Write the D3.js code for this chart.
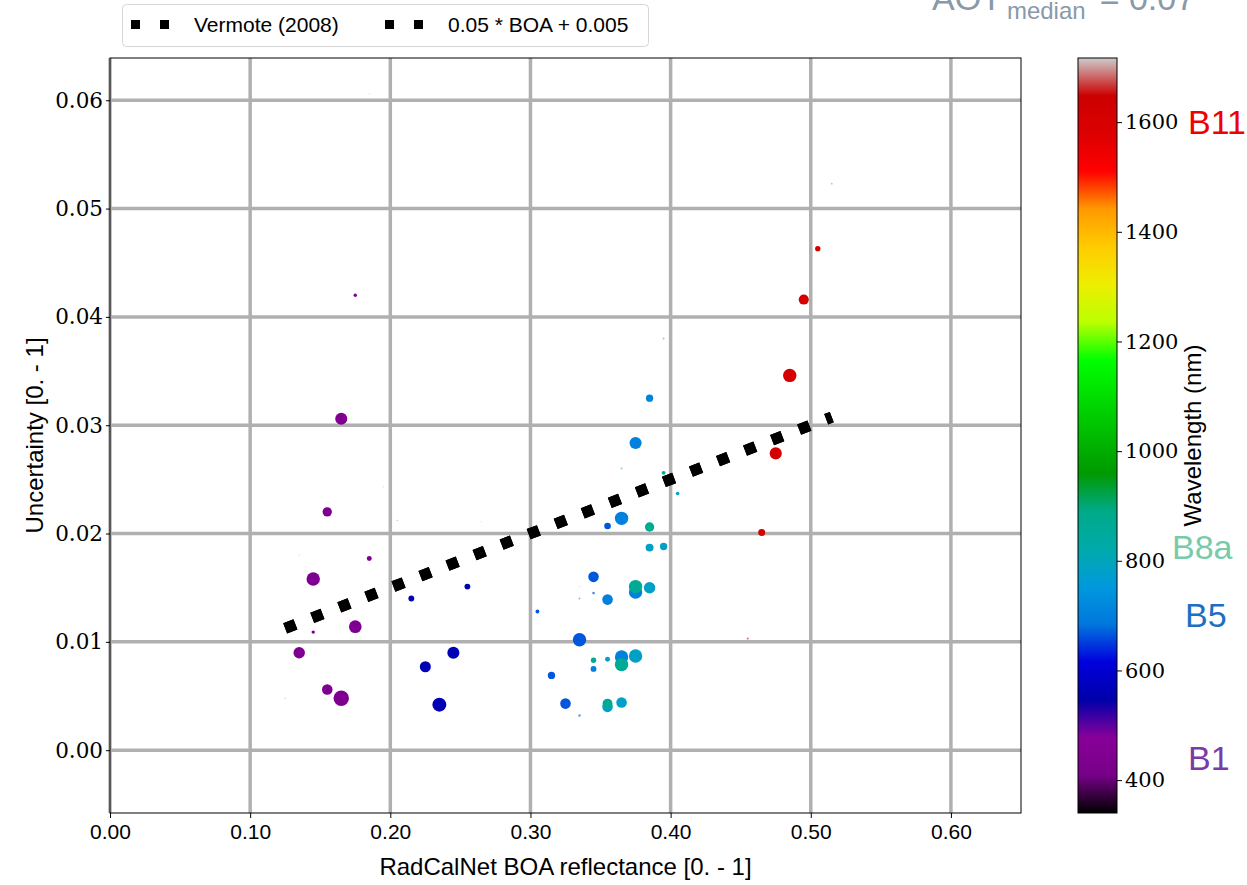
<!DOCTYPE html>
<html><head><meta charset="utf-8">
<script src="https://cdn.jsdelivr.net/npm/d3@7"></script>
<style>body{margin:0;background:#fff}svg{display:block}</style>
</head><body>
<svg id="chart" width="1247" height="885"></svg>
<script>
// Matchups: RadCalNet BOA reflectance, uncertainty, band wavelength (nm) and matchup weight
const boa = [
  0.175,0.165,0.155,0.185,0.145,0.145,0.175,0.135,0.155,0.165,0.125,0.185,0.195,0.135,
  0.215,0.255,0.225,0.245,0.235,0.205,
  0.305,0.315,0.325,0.335,0.345,0.355,0.335,0.345,0.265,0.335,
  0.375,0.365,0.385,0.355,0.365,0.345,0.375,0.365,0.395,0.335,
  0.385,0.395,0.385,0.375,0.365,0.355,0.405,0.355,0.405,
  0.385,0.375,0.365,0.345,0.355,0.395,
  0.505,0.495,0.485,0.475,0.465,0.455,0.515
];
const uncertainty = [
  0.0420,0.0306,0.0220,0.0177,0.0158,0.0109,0.0114,0.0090,0.0056,0.0048,0.0048,0.0606,0.0243,0.0180,
  0.0140,0.0151,0.0077,0.0090,0.0042,0.0212,
  0.0128,0.0069,0.0043,0.0102,0.0160,0.0207,0.0032,0.0145,0.0211,0.0140,
  0.02835,0.0214,0.0325,0.0139,0.0086,0.0075,0.0146,0.0260,0.0380,0.0151,
  0.0187,0.0188,0.0150,0.0087,0.0044,0.0084,0.0237,0.0040,0.0305,
  0.0206,0.0151,0.0079,0.0083,0.0043,0.0256,
  0.0463,0.0416,0.0346,0.0274,0.0201,0.0103,0.0523
];
const wavelength = [
  443,443,443,443,443,443,443,443,443,443,443,443,443,443,
  560,560,560,560,560,560,
  665,665,665,665,665,665,665,665,665,665,
  705,705,705,705,705,705,705,705,705,705,
  783,783,783,783,783,783,783,783,783,
  865,865,865,865,865,865,
  1610,1610,1610,1610,1610,1610,1610
];
const weight = [
  2.4,30,18,5,37,2.4,33,27,23,49,0.4,0.3,0.3,0.3,
  7,7,25,30,40,0.4,
  3,11,23,37,23,9,1.2,1.4,0.3,0.8,
  30,37,11,23,37,7,37,0.8,0.8,0.4,
  13,11,27,37,23,5,2.4,23,0.3,
  18,37,37,6,20,3,
  6,21,37,30,10,1,0.6
];

// Reference line 0.05 * BOA + 0.005, drawn over this BOA span
const lineBoa = [0.125, 0.515];
const legendLabels = ["Vermote (2008)", "0.05 * BOA + 0.005"];

const xTicks = [0, 0.1, 0.2, 0.3, 0.4, 0.5, 0.6];
const yTicks = [0, 0.01, 0.02, 0.03, 0.04, 0.05, 0.06];
const cbTicks = [400, 600, 800, 1000, 1200, 1400, 1600];
const bandLabels = [
  {name: "B11", at: 1600, color: "#f00000"},
  {name: "B8a", at: 825, color: "#77cba9"},
  {name: "B5", at: 702, color: "#1b70c2"},
  {name: "B1", at: 440, color: "#7a3aa9"}
];

// nipy_spectral colour map
const nipyT = [0,0.05,0.10,0.15,0.20,0.25,0.30,0.35,0.40,0.45,0.50,0.55,0.60,0.65,0.70,0.75,0.80,0.85,0.90,0.95,1.0];
const nipyR = [0,0.4667,0.5333,0,0,0,0,0,0,0,0,0,0,0.7333,0.9333,1,1,1,0.8667,0.8,0.8];
const nipyG = [0,0,0,0,0,0.4667,0.6,0.6667,0.6667,0.6,0.7333,0.8667,1,1,0.9333,0.8,0.6,0,0,0,0.8];
const nipyB = [0,0.5333,0.6,0.6667,0.8667,0.8667,0.8667,0.6667,0.5333,0,0,0,0,0,0,0,0,0,0,0,0.8];
const nipyColors = nipyT.map((t, i) => d3.rgb(nipyR[i]*255, nipyG[i]*255, nipyB[i]*255).formatHex());
const nipy = d3.scaleLinear().domain(nipyT).range(nipyColors).interpolate(d3.interpolateRgb).clamp(true);

const wlDomain = [340, 1717];
const wlNorm = d3.scaleLinear().domain(wlDomain).range([0, 1]).clamp(true);
const colorOf = w => nipy(wlNorm(w));

const plot = {left: 110, right: 1021, top: 58, bottom: 813};
const x = d3.scaleLinear().domain([0, 0.65]).range([plot.left, plot.right]);
const y = d3.scaleLinear().domain([-0.0058, 0.0639]).range([plot.bottom, plot.top]);
const r = d3.scaleSqrt().domain([0, 50]).range([0, 7.8]);
const alpha = d3.scaleLinear().domain([0.3, 2]).range([0.2, 1]).clamp(true);

const serif = "'DejaVu Serif', serif";
const sans = "'Liberation Sans', Arial, sans-serif";

const svg = d3.select("#chart");

// grid
const grid = svg.append("g").attr("stroke", "#b0b0b0").attr("stroke-width", 3.5);
grid.selectAll("line.v").data(xTicks).join("line").attr("class", "v")
  .attr("x1", d => x(d)).attr("x2", d => x(d)).attr("y1", plot.top).attr("y2", plot.bottom);
grid.selectAll("line.h").data(yTicks).join("line").attr("class", "h")
  .attr("y1", d => y(d)).attr("y2", d => y(d)).attr("x1", plot.left).attr("x2", plot.right);

// points
const pts = d3.range(boa.length);
svg.append("g").selectAll("circle").data(pts).join("circle")
  .attr("cx", i => x(boa[i]))
  .attr("cy", i => y(uncertainty[i]))
  .attr("r", i => r(weight[i]))
  .attr("fill", i => colorOf(wavelength[i]))
  .attr("fill-opacity", i => alpha(weight[i]));

// reference lines (both entries coincide)
const lineGen = d3.line().x(d => x(d)).y(d => y(0.05 * d + 0.005));
legendLabels.forEach(() => {
  svg.append("path").datum(lineBoa).attr("d", lineGen)
    .attr("fill", "none").attr("stroke", "#000").attr("stroke-width", 11)
    .attr("stroke-dasharray", "11 18").attr("stroke-linecap", "butt");
});

// axes
const xAxis = svg.append("g").attr("transform", `translate(0,${plot.bottom})`)
  .call(d3.axisBottom(x).tickValues(xTicks).tickFormat(d3.format(".2f")).tickSize(5).tickPadding(6));
xAxis.selectAll("text").attr("font-family", sans).attr("font-size", 21).attr("fill", "#000");
const yAxis = svg.append("g").attr("transform", `translate(${plot.left},0)`)
  .call(d3.axisLeft(y).tickValues(yTicks).tickFormat(d3.format(".2f")).tickSize(4).tickPadding(3));
yAxis.selectAll("text").attr("font-family", serif).attr("font-size", 21.5).attr("fill", "#000");
[xAxis, yAxis].forEach(a => { a.select(".domain").remove(); a.selectAll("line").attr("stroke", "#000"); });

svg.append("rect").attr("x", plot.left).attr("y", plot.top)
  .attr("width", plot.right - plot.left).attr("height", plot.bottom - plot.top)
  .attr("fill", "none").attr("stroke", "#000").attr("stroke-width", 1);

svg.append("text").attr("x", (plot.left + plot.right) / 2 + 0).attr("y", 875)
  .attr("text-anchor", "middle").attr("font-family", sans).attr("font-size", 24)
  .text("RadCalNet BOA reflectance [0. - 1]");
svg.append("text").attr("transform", `translate(43,${(plot.top + plot.bottom) / 2}) rotate(-90)`)
  .attr("text-anchor", "middle").attr("font-family", sans).attr("font-size", 24)
  .text("Uncertainty [0. - 1]");

// legend
const lg = svg.append("g");
lg.append("rect").attr("x", 122.5).attr("y", 4.5).attr("width", 526).attr("height", 42)
  .attr("rx", 4).attr("fill", "#fff").attr("stroke", "#d6d6d6");
const legendX = [131, 385];
legendLabels.forEach((t, i) => {
  [0, 29].forEach(dx => lg.append("rect").attr("x", legendX[i] + dx).attr("y", 20)
    .attr("width", 9).attr("height", 9).attr("fill", "#000"));
  lg.append("text").attr("x", legendX[i] + 63).attr("y", 32)
    .attr("font-family", sans).attr("font-size", 21).text(t);
});

// colour bar
const cb = {x: 1078, w: 39, top: 58, bottom: 813};
const cy = d3.scaleLinear().domain(wlDomain).range([cb.bottom, cb.top]);
const grad = svg.append("defs").append("linearGradient").attr("id", "cbgrad")
  .attr("x1", 0).attr("y1", 1).attr("x2", 0).attr("y2", 0);
nipyT.forEach((t, i) => grad.append("stop").attr("offset", t).attr("stop-color", nipyColors[i]));
svg.append("rect").attr("x", cb.x).attr("y", cb.top).attr("width", cb.w).attr("height", cb.bottom - cb.top)
  .attr("fill", "url(#cbgrad)").attr("stroke", "#000").attr("stroke-width", 1);
const cbAxis = svg.append("g").attr("transform", `translate(${cb.x + cb.w},0)`)
  .call(d3.axisRight(cy).tickValues(cbTicks).tickFormat(d3.format("d")).tickSize(5).tickPadding(3));
cbAxis.select(".domain").remove();
cbAxis.selectAll("line").attr("stroke", "#000");
cbAxis.selectAll("text").attr("font-family", serif).attr("font-size", 21).attr("fill", "#000");
svg.append("text").attr("transform", `translate(1201,${(cb.top + cb.bottom) / 2}) rotate(-90)`)
  .attr("text-anchor", "middle").attr("font-family", sans).attr("font-size", 24)
  .text("Wavelength (nm)");

svg.append("g").selectAll("text").data(bandLabels).join("text")
  .attr("x", d => d.name === "B8a" ? 1172 : (d.name === "B5" ? 1185 : 1188))
  .attr("y", d => cy(d.at) + 12)
  .attr("font-family", sans).attr("font-size", 34).attr("fill", d => d.color)
  .text(d => d.name);

// AOT annotation
const aot = svg.append("text").attr("x", 932).attr("y", 10).attr("font-family", sans)
  .attr("fill", "#8899aa").attr("font-size", 34);
aot.append("tspan").text("AOT");
aot.append("tspan").attr("dy", 9).attr("dx", 5).attr("font-size", 24).text("median");
aot.append("tspan").attr("dy", -9).attr("dx", 14).text("= 0.07");
</script>
</body></html>
